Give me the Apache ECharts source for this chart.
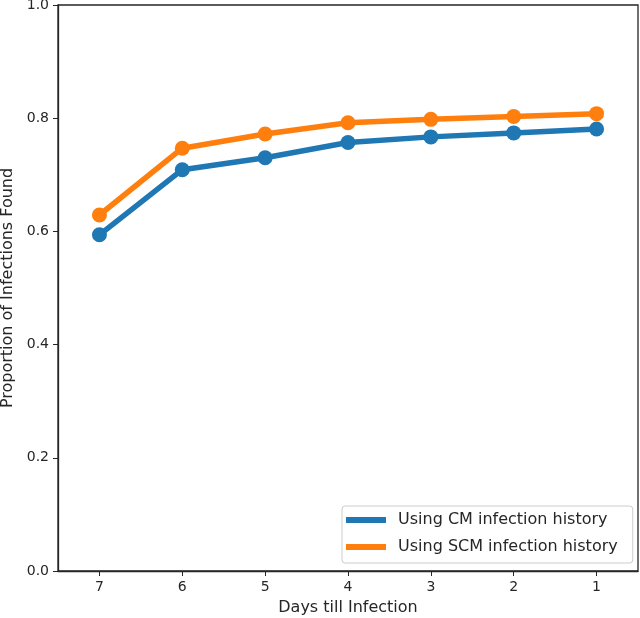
<!DOCTYPE html>
<html>
<head>
<meta charset="utf-8">
<script src="https://cdn.jsdelivr.net/npm/echarts@6/dist/echarts.min.js"></script>
<style>html,body{margin:0;padding:0;background:#fff}#c{width:640px;height:618px}</style>
</head>
<body>
<div id="c"></div>
<script>
var categories = ['7', '6', '5', '4', '3', '2', '1'];
var cmValues = [0.594, 0.709, 0.730, 0.757, 0.767, 0.774, 0.781];
var scmValues = [0.629, 0.747, 0.772, 0.792, 0.798, 0.803, 0.808];
var seriesNames = ['Using CM infection history', 'Using SCM infection history'];
var yTicks = [0, 0.2, 0.4, 0.6, 0.8, 1.0];

var chart = echarts.init(document.getElementById('c'), null, {renderer: 'canvas'});
var axisColor = '#262626';
var font = 'DejaVu Sans';
chart.setOption({
  animation: false,
  backgroundColor: '#fff',
  grid: {left: 58, right: 2, top: 5, bottom: 47, show: true, borderColor: axisColor, borderWidth: 1.3,
         backgroundColor: 'transparent', outerBoundsMode: 'none', containLabel: false},
  legend: {
    orient: 'vertical',
    left: 342, top: 506,
    padding: [4, 15, 6, 4],
    itemWidth: 40, itemHeight: 6, itemGap: 7,
    icon: 'rect',
    borderColor: '#cccccc', borderWidth: 1, borderRadius: 3,
    backgroundColor: 'rgba(255,255,255,0.8)',
    textStyle: {fontFamily: font, fontSize: 16, color: '#262626', lineHeight: 20, padding: [0, 0, 0, 7]},
    data: seriesNames
  },
  xAxis: {
    type: 'category',
    data: categories,
    boundaryGap: true,
    name: 'Days till Infection',
    nameLocation: 'middle',
    nameGap: 29,
    nameTextStyle: {fontFamily: font, fontSize: 16, color: '#262626'},
    axisLine: {show: true, lineStyle: {color: axisColor, width: 1.3}},
    axisTick: {show: true, alignWithLabel: true, length: 5, lineStyle: {color: axisColor}},
    axisLabel: {fontFamily: font, fontSize: 14, color: '#262626', margin: 9},
    splitLine: {show: false}
  },
  yAxis: {
    type: 'value',
    min: yTicks[0], max: yTicks[yTicks.length - 1], interval: 0.2,
    name: 'Proportion of Infections Found',
    nameLocation: 'middle',
    nameGap: 41,
    nameTextStyle: {fontFamily: font, fontSize: 16, color: '#262626'},
    axisLine: {show: true, lineStyle: {color: axisColor, width: 1.3}},
    axisTick: {show: true, length: 5, lineStyle: {color: axisColor}},
    axisLabel: {fontFamily: font, fontSize: 14, color: '#262626', margin: 9, formatter: function (v) { return v.toFixed(1); }},
    splitLine: {show: false}
  },
  series: [
    {name: seriesNames[0], type: 'line', data: cmValues, symbol: 'circle', symbolSize: 15,
     itemStyle: {color: '#1f77b4'}, lineStyle: {width: 5.5, color: '#1f77b4'}},
    {name: seriesNames[1], type: 'line', data: scmValues, symbol: 'circle', symbolSize: 15,
     itemStyle: {color: '#ff7f0e'}, lineStyle: {width: 5.5, color: '#ff7f0e'}}
  ]
});
</script>
</body>
</html>
